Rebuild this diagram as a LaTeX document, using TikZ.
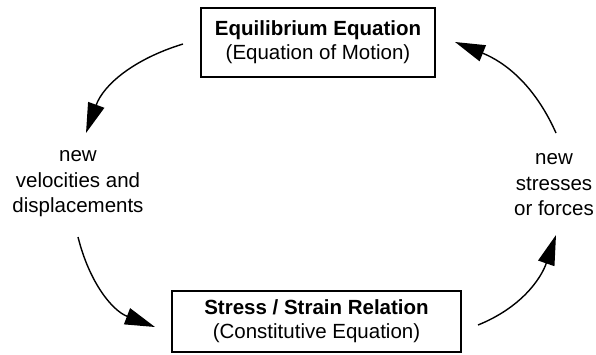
\documentclass[tikz,border=0pt]{standalone}
\usepackage{fontspec}
\setmainfont{Liberation Sans}
\usetikzlibrary{arrows.meta, calc}

\begin{document}
\begin{tikzpicture}[
  x=1pt, y=1pt,
  block/.style={draw, line width=2.2pt, align=center, inner sep=0pt,
    font=\fontsize{20.5}{24}\selectfont},
  label/.style={align=center, inner sep=0pt, font=\fontsize{20.5}{25.5}\selectfont},
  flow/.style={-{Triangle[length=30pt, width=17pt]}, line width=1.4pt}
]
\useasboundingbox (0,0) rectangle (596,-354);

\node[block, minimum width=234, minimum height=69] (eq) at (318,-42.5)
  {\textbf{Equilibrium Equation}\\(Equation of Motion)};
\node[block, minimum width=289, minimum height=61] (ss) at (316.5,-321.5)
  {\textbf{Stress / Strain Relation}\\(Constitutive Equation)};

\node[label] (vel) at (78,-184) {new\\velocities and\\displacements};
\node[label] (sf) at (554,-185) {new\\stresses\\or forces};

% the loop, anticlockwise round the page
\draw[flow] ($(eq.center)+(-135,-1.5)$) to[out=197, in=70] ($(vel.center)+(8,51)$);
\draw[flow] ($(vel.center)+(0,-53)$) to[out=284, in=159] ($(ss.center)+(-161.5,-5.5)$);
\draw[flow] ($(ss.center)+(161.5,-3.5)$) to[out=22, in=251] ($(sf.center)+(2,-50)$);
\draw[flow] ($(sf.center)+(2,52)$) to[out=114, in=338] ($(eq.center)+(137,0.5)$);
\end{tikzpicture}
\end{document}
